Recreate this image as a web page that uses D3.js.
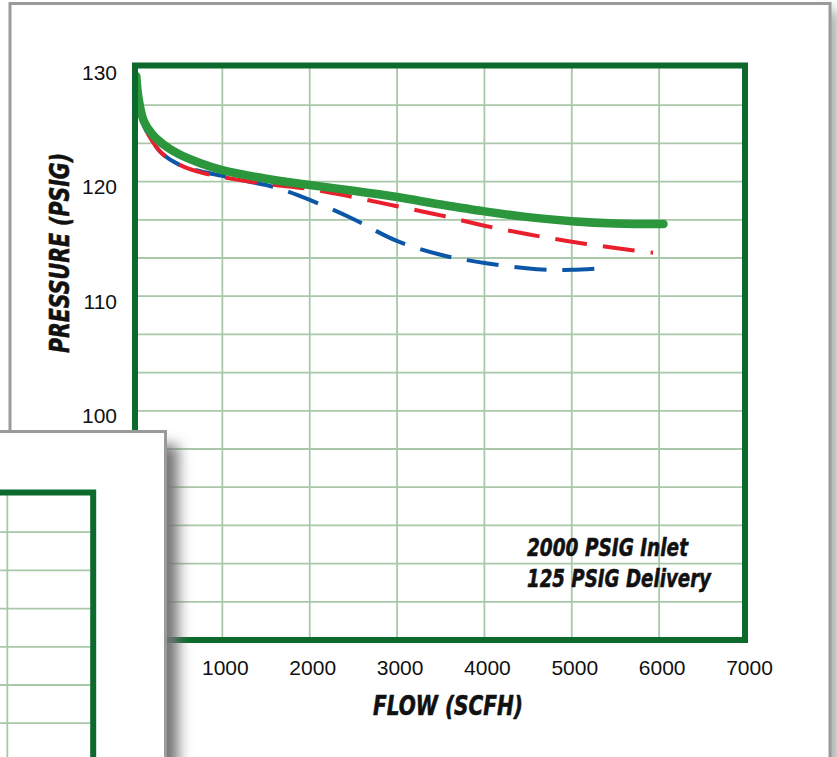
<!DOCTYPE html>
<html>
<head>
<meta charset="utf-8">
<script src="https://cdn.jsdelivr.net/npm/d3@7"></script>
<style>
  body { margin: 0; background: #fff; overflow: hidden; }
</style>
</head>
<body>
<div id="chart"></div>
<script>
// tick labels
const flowTicks = [0, 1000, 2000, 3000, 4000, 5000, 6000, 7000];
const pressureTicks = [80, 90, 100, 110, 120, 130];

// solid green curve
const greenFlow = [15, 40, 100, 200, 316, 500, 750, 1000, 1500, 2000, 2500, 3000, 3500, 4000, 4500, 5000, 5500, 6050];
const greenPressure = [129.2, 127.3, 125.3, 124.1, 123.3, 122.4, 121.6, 121.0, 120.25, 119.7, 119.2, 118.65, 118.0, 117.4, 116.9, 116.55, 116.35, 116.3];

// red dashed curve
const redFlow = [15, 100, 200, 316, 500, 750, 1000, 1500, 2000, 2500, 3000, 3500, 4000, 4500, 5000, 5500, 5930];
const redPressure = [128.5, 125.0, 123.5, 122.4, 121.5, 120.8, 120.4, 119.8, 119.35, 118.65, 117.85, 117.05, 116.15, 115.4, 114.75, 114.2, 113.8];

// blue dashed curve
const blueFlow = [15, 100, 200, 316, 500, 750, 1000, 1300, 1580, 2000, 2480, 2990, 3510, 4000, 4600, 5000, 5360];
const bluePressure = [127.0, 124.9, 123.5, 122.4, 121.5, 120.9, 120.5, 120.0, 119.55, 118.4, 116.8, 114.85, 113.6, 112.9, 112.35, 112.3, 112.45];

const noteLines = ["2000 PSIG Inlet", "125 PSIG Delivery"];

const width = 837, height = 757;
const condensed = "'Liberation Sans Narrow', 'DejaVu Sans Condensed', 'Arial Narrow', sans-serif";

const svg = d3.select("#chart").append("svg")
  .attr("width", width)
  .attr("height", height);

const defs = svg.append("defs");
defs.append("filter").attr("id", "soft")
  .attr("x", "-50%").attr("y", "-50%").attr("width", "200%").attr("height", "200%")
  .append("feGaussianBlur").attr("stdDeviation", 7);

// scales
const x = d3.scaleLinear().domain([0, 7000]).range([135, 746.5]);
const y = d3.scaleLinear().domain([80, 130]).range([640, 67]);
const gridPressure = d3.range(80, 130.01, 10 / 3);

// main card
svg.append("rect")
  .attr("x", 824).attr("y", 10).attr("width", 12).attr("height", 800)
  .attr("fill", "#8d8d8d").attr("filter", "url(#soft)");
svg.append("rect")
  .attr("x", 10).attr("y", 3.5).attr("width", 820).attr("height", 800)
  .attr("fill", "#fff").attr("stroke", "#9a9a9d").attr("stroke-width", 3);

function drawGrid(g) {
  g.append("g").selectAll("line")
    .data(gridPressure)
    .join("line")
    .attr("x1", x(0)).attr("x2", x(7000))
    .attr("y1", d => y(d)).attr("y2", d => y(d))
    .attr("stroke", "#a9c8a9").attr("stroke-width", 1.8);
  g.append("g").selectAll("line")
    .data(flowTicks.slice(1, -1))
    .join("line")
    .attr("x1", d => x(d)).attr("x2", d => x(d))
    .attr("y1", y(130)).attr("y2", y(80))
    .attr("stroke", "#a9c8a9").attr("stroke-width", 1.8);
}

function drawFrame(g) {
  g.append("rect")
    .attr("x", x(0)).attr("y", y(130) - 1.5)
    .attr("width", x(7000) - x(0) - 1.5).attr("height", y(80) - y(130) + 1.5)
    .attr("fill", "none").attr("stroke", "#0b6a2c").attr("stroke-width", 6);
}

const plot = svg.append("g");
drawGrid(plot);

// tick labels
plot.append("g").selectAll("text")
  .data(flowTicks)
  .join("text")
  .attr("x", d => x(d) + 3)
  .attr("y", 675)
  .attr("text-anchor", "middle")
  .attr("font-family", "'Liberation Sans', Arial, sans-serif")
  .attr("font-size", 21)
  .attr("fill", "#111")
  .text(d => d);

plot.append("g").selectAll("text")
  .data(pressureTicks)
  .join("text")
  .attr("x", 117)
  .attr("y", d => y(d) + 12.5)
  .attr("text-anchor", "end")
  .attr("font-family", "'Liberation Sans', Arial, sans-serif")
  .attr("font-size", 21)
  .attr("fill", "#111")
  .text(d => d);

// curves
const line = d3.line()
  .x(d => x(d[0]))
  .y(d => y(d[1]))
  .curve(d3.curveCatmullRom.alpha(0.5));

plot.append("path")
  .attr("d", line(d3.zip(blueFlow, bluePressure)))
  .attr("fill", "none").attr("stroke", "#0b56a6").attr("stroke-width", 4)
  .attr("stroke-dasharray", "32,16");

plot.append("path")
  .attr("d", line(d3.zip(redFlow, redPressure)))
  .attr("fill", "none").attr("stroke", "#ea1f2d").attr("stroke-width", 4)
  .attr("stroke-dasharray", "32,16");

plot.append("path")
  .attr("d", line(d3.zip(greenFlow, greenPressure)))
  .attr("fill", "none").attr("stroke", "#2c963c").attr("stroke-width", 8.5)
  .attr("stroke-linecap", "round").attr("stroke-linejoin", "round");

drawFrame(plot);

// axis titles
svg.append("text")
  .attr("x", 448).attr("y", 715)
  .attr("text-anchor", "middle")
  .attr("font-family", condensed)
  .attr("font-weight", "bold").attr("font-style", "italic")
  .attr("font-size", 27)
  .attr("textLength", 150).attr("lengthAdjust", "spacingAndGlyphs")
  .attr("fill", "#111")
  .attr("stroke", "#111").attr("stroke-width", 0.6)
  .text("FLOW (SCFH)");

svg.append("text")
  .attr("transform", "translate(68.5,253) rotate(-90)")
  .attr("text-anchor", "middle")
  .attr("font-family", condensed)
  .attr("font-weight", "bold").attr("font-style", "italic")
  .attr("font-size", 27)
  .attr("textLength", 200).attr("lengthAdjust", "spacingAndGlyphs")
  .attr("fill", "#111")
  .attr("stroke", "#111").attr("stroke-width", 0.6)
  .text("PRESSURE (PSIG)");

// note
svg.append("g").selectAll("text")
  .data(noteLines)
  .join("text")
  .attr("x", 527)
  .attr("y", (d, i) => 556 + i * 31)
  .attr("font-family", condensed)
  .attr("font-weight", "bold").attr("font-style", "italic")
  .attr("font-size", 24)
  .attr("textLength", (d, i) => [161, 184][i]).attr("lengthAdjust", "spacingAndGlyphs")
  .attr("fill", "#111")
  .attr("stroke", "#111").attr("stroke-width", 0.5)
  .text(d => d);

// overlapping card with the next chart
svg.append("rect")
  .attr("x", 146).attr("y", 445).attr("width", 32).attr("height", 400)
  .attr("fill", "#737373").attr("filter", "url(#soft)");
svg.append("rect")
  .attr("x", -10).attr("y", 431.5).attr("width", 175.5).attr("height", 400)
  .attr("fill", "#fff").attr("stroke", "#9a9a9d").attr("stroke-width", 3);

const second = svg.append("g")
  .attr("transform", "translate(-651.8,427)");
second.append("clipPath").attr("id", "secondClip")
  .append("rect").attr("x", 651.8).attr("y", 6).attr("width", 162).attr("height", 400);
const secondInner = second.append("g").attr("clip-path", "url(#secondClip)");
drawGrid(secondInner);
drawFrame(secondInner);
</script>
</body>
</html>
